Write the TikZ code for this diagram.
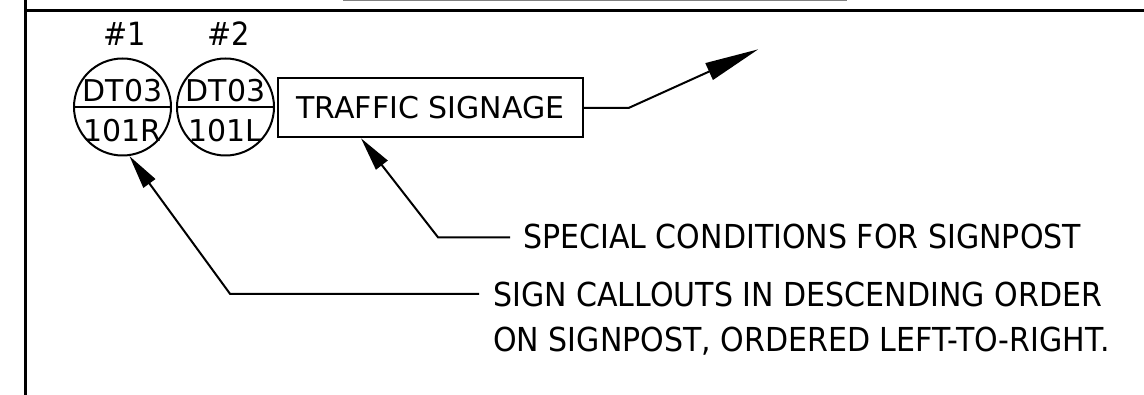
\documentclass[tikz,border=0pt]{standalone}
\usepackage{fontspec}
\setmainfont{DejaVu Sans}
\newfontfamily\notefont[FakeStretch=0.91]{DejaVu Sans}
\newfontfamily\numfont[FakeStretch=0.9]{DejaVu Sans}
\usetikzlibrary{arrows.meta, positioning}
\tikzset{%
	frame/.style={line width=2.6pt},
	callout/.style={draw, circle, minimum size=97pt, inner sep=0pt, line width=2pt},
	calltext/.style={anchor=base, inner sep=0pt, font=\fontsize{30}{36}\selectfont},
	callnum/.style={anchor=base, inner sep=0pt, font=\numfont\fontsize{32}{38}\selectfont},
	signbox/.style={draw, rectangle, minimum width=305pt, minimum height=59pt,%
		inner sep=0pt, line width=2pt, font=\fontsize{30}{36}\selectfont},
	note/.style={inner sep=0pt, align=left, font=\notefont\fontsize{33}{45.5}\selectfont},
	leader/.style={line width=2pt, line join=miter},
	bigtip/.style={-{Triangle[length=54pt,width=18pt]}},
	smalltip/.style={-{Triangle[length=34pt,width=14.5pt]}}
}
\begin{document}
\begin{tikzpicture}[x=1pt, y=-1pt]
		\useasboundingbox (0,0) rectangle (1144,395);
		% sheet border
		\draw [frame] (25.5,0) -- (25.5,395);
		\draw [frame] (25.5,10.5) -- (1144,10.5);
		\draw [gray, line width=1pt] (343,0.5) -- (847,0.5);

		\node[callout] (call-r) at (122.5,107) {};
		\node[callout] (call-l) [right=4pt of call-r] {};
		\draw [line width=2pt] (call-r.west) -- (call-r.east);
		\draw [line width=2pt] (call-l.west) -- (call-l.east);
		\node[calltext] (call-r-top) at ([yshift=5pt]call-r) {DT03};
		\node[calltext] (call-r-bot) at ([yshift=-35pt]call-r) {101R};
		\node[calltext] (call-l-top) at ([yshift=5pt]call-l) {DT03};
		\node[calltext] (call-l-bot) at ([yshift=-35pt]call-l) {101L};
		\node[callnum] (num-r) at ([xshift=2.5pt, yshift=12pt]call-r.north) {\#1};
		\node[callnum] (num-l) at ([xshift=3pt, yshift=12pt]call-l.north) {\#2};

		\node[signbox] (sign) at (430.5,107.8) {TRAFFIC SIGNAGE};
		\coordinate (sign-tip) at (758.3,49.3);
		\draw [leader, bigtip] (sign.east) -- ++(45,0) -- (sign-tip);

		\node[note, anchor=base west] (note-cond) at (523,248.3) {SPECIAL CONDITIONS FOR SIGNPOST};
		\node[note, anchor=north west] (note-order) at (493,281.5)
			{SIGN CALLOUTS IN DESCENDING ORDER\\ON SIGNPOST, ORDERED LEFT-TO-RIGHT.};

		\draw [leader, smalltip] ([xshift=-13pt, yshift=-1pt]note-cond.west) -- ++(-72,0)
			-- ([xshift=84pt]sign.south west);
		\draw [leader, smalltip] ([xshift=-14pt, yshift=-12.3pt]note-order.north west) -- ++(-249,0)
			-- (call-r.-82);
	\end{tikzpicture}
\end{document}
